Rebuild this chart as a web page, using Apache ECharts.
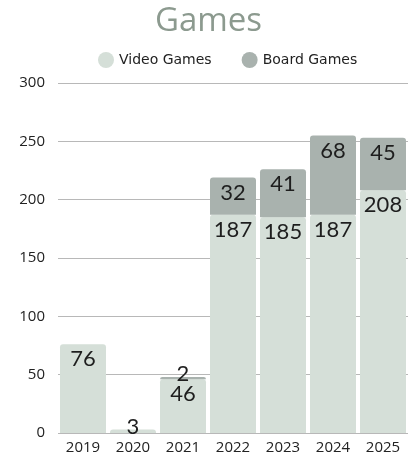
<!DOCTYPE html>
<html>
<head>
<meta charset="utf-8">
<script src="https://cdn.jsdelivr.net/npm/echarts@6/dist/echarts.min.js"></script>
<style>
  html, body { margin: 0; padding: 0; background: #fff; }
  #main { width: 417px; height: 457px; }
</style>
</head>
<body>
<div id="main"></div>
<script>
// data
var years = ['2019', '2020', '2021', '2022', '2023', '2024', '2025'];
var videoGames = [76, 3, 46, 187, 185, 187, 208];
var boardGames = [null, null, 2, 32, 41, 68, 45];
var yTicks = [0, 50, 100, 150, 200, 250, 300];

var chart = echarts.init(document.getElementById('main'));

var labelStyle = {
    show: true,
    position: 'insideTop',
    distance: 4,
    color: '#1e1e1e',
    fontSize: 22,
    fontFamily: 'Lato'
};

// tiny segments: put the label just above the bar
function withLabels(values) {
    return values.map(function (v) {
        if (v != null && v < 5) {
            return { value: v, label: { position: 'top', distance: -8 } };
        }
        return v;
    });
}

var option = {
    animation: false,
    title: {
        text: 'Games',
        left: 'center',
        top: 0,
        textStyle: {
            color: '#8c9a8f',
            fontSize: 33,
            fontWeight: 'normal',
            fontFamily: 'Open Sans'
        }
    },
    legend: {
        top: 47,
        left: 93,
        icon: 'circle',
        itemWidth: 16,
        itemHeight: 16,
        itemGap: 30,
        textStyle: { color: '#222', fontSize: 14, fontFamily: 'DejaVu Sans' },
        data: ['Video Games', 'Board Games']
    },
    grid: { left: 58, right: 9, top: 83, bottom: 24, containLabel: false },
    xAxis: {
        type: 'category',
        data: years,
        axisLine: { show: false },
        axisTick: { show: false },
        axisLabel: { color: '#222', fontSize: 15, fontFamily: 'Open Sans', margin: 7 }
    },
    yAxis: {
        type: 'value',
        min: yTicks[0],
        max: yTicks[yTicks.length - 1],
        interval: 50,
        axisLabel: { color: '#222', fontSize: 15, fontFamily: 'Open Sans', margin: 13 },
        splitLine: { lineStyle: { color: '#b8b8b8', width: 1 } }
    },
    series: [
        {
            name: 'Video Games',
            type: 'bar',
            stack: 'games',
            barCategoryGap: '8%',
            data: withLabels(videoGames),
            itemStyle: { color: '#d5dfd8', borderRadius: [3, 3, 0, 0] },
            label: labelStyle
        },
        {
            name: 'Board Games',
            type: 'bar',
            stack: 'games',
            barCategoryGap: '8%',
            data: withLabels(boardGames),
            itemStyle: { color: '#a9b2ae', borderRadius: [3, 3, 0, 0] },
            label: labelStyle
        }
    ]
};

chart.setOption(option);
</script>
</body>
</html>
